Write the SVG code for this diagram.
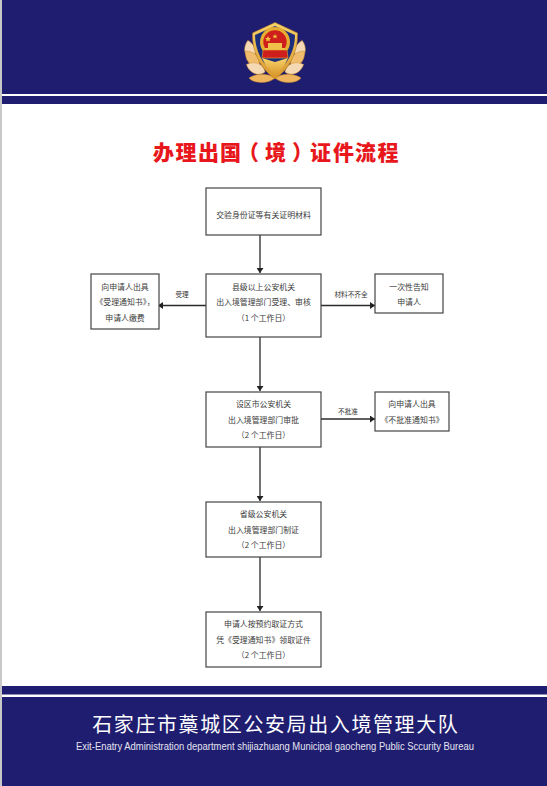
<svg xmlns="http://www.w3.org/2000/svg" width="547" height="786" viewBox="0 0 547 786">
<style>
.box{fill:#fff;stroke:#444;stroke-width:1.2}
.t{font-family:"Noto Sans CJK SC","Liberation Serif",serif;font-size:7.9px;fill:#3a3a3a;text-anchor:middle}
.l{font-family:"Noto Sans CJK SC","Liberation Serif",serif;font-size:6.6px;fill:#333;text-anchor:middle}
.c{fill:none;stroke:#2a2a2a;stroke-width:1.3;marker-end:url(#a)}
.band{fill:#1f1d6f}
.p1{fill:#f0bd6e;stroke:#c98a2a;stroke-width:.5}
.p2{fill:#f5d8b4;stroke:#d79a3c;stroke-width:.5}
</style>
<defs>
<marker id="a" markerUnits="userSpaceOnUse" markerWidth="6" markerHeight="7" refX="5" refY="3.500" orient="auto"><path d="M0 0L5 3.500L0 7Z" fill="#222"/></marker>
<linearGradient id="gold" x1="0" y1="0" x2="0" y2="1"><stop offset="0" stop-color="#f7d36a"/><stop offset="1" stop-color="#d9962a"/></linearGradient>
<path id="leaf" d="M0 0C-7 -4 -7 -14 0 -20C7 -14 7 -4 0 0Z"/>
</defs>
<rect width="547" height="786" fill="#fff"/>
<rect x="0" width="2" height="786" fill="#c8c8c8"/>
<g id="header">
<rect class="band" x="2" y="0" width="545" height="94"/>
<rect class="band" x="2" y="96" width="545" height="8"/>
</g>
<g id="emblem">
<use href="#leaf" class="p2" transform="translate(252 60) rotate(-12)"/>
<use href="#leaf" class="p1" transform="translate(259 66) rotate(-42)"/>
<use href="#leaf" class="p2" transform="translate(265 72) rotate(-68)"/>
<use href="#leaf" class="p2" transform="translate(298 60) rotate(12)"/>
<use href="#leaf" class="p1" transform="translate(291 66) rotate(42)"/>
<use href="#leaf" class="p2" transform="translate(285 72) rotate(68)"/>
<path d="M275 78C268 84 254 84 249 78C256 73 268 73 275 78C282 73 294 73 301 78C296 84 282 84 275 78Z" fill="#eeb45e" stroke="#c98a2a" stroke-width=".5"/>
<path d="M275 22.500L297.500 33C298 52 290 68 275 79C260 68 252 52 252.500 33Z" fill="url(#gold)" stroke="#b57f1e" stroke-width=".5"/>
<path d="M275 26L295 35C295 50 288 64 275 74C262 64 255 50 255 35Z" fill="#1c2f7c"/>
<circle cx="275" cy="42" r="15" fill="#e6ad30"/>
<circle cx="275" cy="42" r="11.700" fill="#cf1f1c"/>
<path d="M268 36l1 2 2 0-1.500 1.500.5 2-2-1-2 1 .5-2-1.500-1.500 2 0zM275 34l.8 1.700 1.700 0-1.300 1.200.5 1.700-1.700-1-1.700 1 .5-1.700-1.300-1.200 1.700 0z" fill="#f2c03c"/>
<rect x="268" y="43" width="14" height="5" fill="#f0c24a"/>
<rect x="265" y="48" width="20" height="2" fill="#f0c24a"/>
<path d="M263 50H287L288 58H262Z" fill="#cf1f1c" stroke="#e6ad30" stroke-width=".6"/>
<path d="M275 62L262 58L266 66L275 76L284 66L288 58Z" fill="url(#gold)"/>
</g>
<g id="footer">
<rect class="band" x="2" y="686" width="545" height="8.500"/>
<rect class="band" x="2" y="697" width="545" height="89"/>
<text x="275.800" y="732" text-anchor="middle" font-family="Noto Sans CJK SC,Liberation Sans,sans-serif" font-size="20" letter-spacing="1.600" fill="#fff">石家庄市藁城区公安局出入境管理大队</text>
<text x="275" y="750" text-anchor="middle" font-family="Liberation Sans,sans-serif" font-size="10" fill="#e4e4f0" textLength="398" lengthAdjust="spacingAndGlyphs">Exit-Enatry Administration department shijiazhuang Municipal gaocheng Public Sccurity Bureau</text>
</g>
<text id="title" x="153 175.500 198 220 238 265 292 310 333 355 377.500" y="160" font-family="Noto Sans CJK SC,sans-serif" font-size="21" font-weight="900" fill="#e8171c">办理出国（境）证件流程</text>
<g id="connectors">
<path class="c" d="M260 235V273"/>
<path class="c" d="M206 305.500H158"/>
<path class="c" d="M321 305.500H375"/>
<path class="c" d="M260 337V391"/>
<path class="c" d="M321 419H375"/>
<path class="c" d="M260 447V501"/>
<path class="c" d="M260 557V611"/>
<text class="l" x="182" y="297">受理</text>
<text class="l" x="351" y="297">材料不齐全</text>
<text class="l" x="348" y="414">不批准</text>
</g>
<g id="n1"><rect class="box" x="206" y="188" width="115" height="47"/><text class="t" x="263.500" y="218">交验身份证等有关证明材料</text></g>
<g id="n2"><rect class="box" x="206" y="274" width="115" height="63"/><text class="t" x="263.500" y="290">县级以上公安机关</text><text class="t" x="263.500" y="305">出入境管理部门受理、审核</text><text class="t" x="263.500" y="321">（1 个工作日）</text></g>
<g id="n3"><rect class="box" x="91" y="274" width="68" height="55"/><text class="t" x="125" y="290">向申请人出具</text><text class="t" x="125" y="305">《受理通知书》，</text><text class="t" x="125" y="321">申请人缴费</text></g>
<g id="n4"><rect class="box" x="375" y="274" width="68" height="39"/><text class="t" x="409" y="290">一次性告知</text><text class="t" x="409" y="305">申请人</text></g>
<g id="n5"><rect class="box" x="206" y="392" width="115" height="55"/><text class="t" x="263.500" y="407">设区市公安机关</text><text class="t" x="263.500" y="423">出入境管理部门审批</text><text class="t" x="263.500" y="438">（2 个工作日）</text></g>
<g id="n6"><rect class="box" x="375" y="392" width="74" height="39"/><text class="t" x="412" y="407">向申请人出具</text><text class="t" x="412" y="423">《不批准通知书》</text></g>
<g id="n7"><rect class="box" x="206" y="502" width="115" height="55"/><text class="t" x="263.500" y="517">省级公安机关</text><text class="t" x="263.500" y="533">出入境管理部门制证</text><text class="t" x="263.500" y="548">（2 个工作日）</text></g>
<g id="n8"><rect class="box" x="206" y="612" width="115" height="55"/><text class="t" x="263.500" y="627">申请人按预约取证方式</text><text class="t" x="263.500" y="643">凭《受理通知书》领取证件</text><text class="t" x="263.500" y="658">（2 个工作日）</text></g>
</svg>
